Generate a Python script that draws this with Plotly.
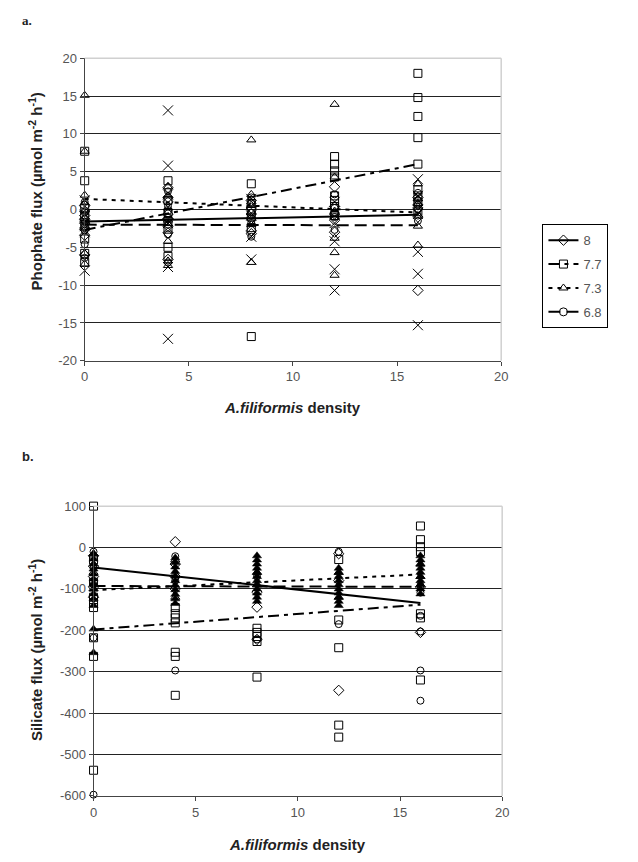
import plotly.graph_objects as go

# page body has an 8px margin; the figure is sized/positioned to fit the 638x862 window
OFF = 8
W, H = 638 - 2 * OFF, 862 - 2 * OFF


def fx(p):
    return (p - OFF) / W


def fy(p):
    return 1 - (p - OFF) / H


# ---------------- data : panel a (phosphate flux) ----------------
ph_labels = ["8", "7.7", "7.3", "6.8"]
symbols = ["diamond-open", "square-open", "triangle-up-open", "circle-open"]

a_x_8 = [0, 0, 0, 0, 0, 0, 0, 0, 4, 4, 4, 4, 4, 4, 4, 4, 8, 8, 8, 8, 8, 8, 12, 12, 12, 12, 12, 16, 16, 16, 16, 16]
a_y_8 = [0.5, -0.2, -0.8, -1.3, -1.8, -2.6, -3.4, -6.0,
         2.9, 1.6, 1.0, -0.6, -1.2, -2.2, -3.1, -6.6,
         1.2, 0.2, -0.6, -1.2, -2.8, -3.2,
         3.0, 0.4, -0.6, -1.4, -3.0,
         1.6, 0.6, 0.2, -1.0, -10.7]

a_x_77 = [0, 0, 0, 0, 0, 0, 0, 0, 4, 4, 4, 4, 4, 4, 4, 8, 8, 8, 8, 8, 8,
          12, 12, 12, 12, 12, 12, 12, 12, 16, 16, 16, 16, 16, 16, 16, 16, 16]
a_y_77 = [7.7, 3.8, 0.2, -1.0, -2.2, -3.9, -5.8, -7.0,
          3.8, 1.2, -0.4, -1.6, -2.6, -5.0, -6.2,
          3.4, 0.8, -0.2, -1.0, -2.4, -16.8,
          7.0, 6.0, 5.1, 4.3, 1.8, 1.2, 0.4, -0.8,
          18.0, 14.8, 12.3, 9.5, 6.0, 2.6, 1.8, 1.0, -0.3]

a_x_73 = [0, 0, 0, 0, 0, 0, 0, 0, 4, 4, 4, 4, 4, 4, 4, 8, 8, 8, 8, 8, 8,
          12, 12, 12, 12, 12, 12, 16, 16, 16, 16, 16]
a_y_73 = [15.1, 7.7, 1.9, 0.9, -0.2, -1.2, -5.8, -7.2,
          3.0, 1.8, 0.2, -1.4, -4.2, -6.8, -7.4,
          9.2, 2.0, 0.6, -1.0, -2.0, -7.0,
          13.9, 4.3, -0.2, -3.8, -5.7, -8.7,
          3.4, 1.4, 0.8, -2.2, -4.7]

a_x_68 = [0, 0, 0, 0, 0, 0, 0, 4, 4, 4, 4, 4, 4, 4, 8, 8, 8, 8, 8, 12, 12, 12, 12, 12, 16, 16, 16, 16, 16, 16]
a_y_68 = [1.0, -0.4, -1.6, -2.2, -2.8, -4.6, -6.4,
          2.4, 0.4, -0.2, -1.0, -2.0, -3.3, -7.0,
          1.6, 0.9, -0.4, -1.8, -3.6,
          2.0, 0.2, -0.4, -1.0, -2.7,
          2.2, 1.2, 0.6, 0.0, -0.8, -1.5]

a_x_cross = [0, 0, 0, 0, 0, 4, 4, 4, 4, 4, 4, 8, 8, 8, 8, 12, 12, 12, 12, 12, 16, 16, 16, 16, 16, 16]
a_y_cross = [1.2, -0.6, -2.2, -3.0, -8.1, 13.1, 5.8, 2.0, -1.8, -7.6, -17.1,
             1.4, -0.8, -3.6, -6.6, 1.0, -1.8, -4.2, -7.9, -10.7,
             4.0, 1.8, -0.6, -5.6, -8.5, -15.3]

trend_x = [0, 16]
a_trend_8 = [-1.6, -0.7]
a_trend_77 = [-2.7, 6.0]
a_trend_73 = [1.4, -0.4]
a_trend_68 = [-2.0, -2.1]

a_ticks = [-20, -15, -10, -5, 0, 5, 10, 15, 20]
a_ticktext = ["-20", "-15", "-10", "-5", "0", "5", "10", "15", "20"]

# ---------------- data : panel b (silicate flux) ----------------
b_x_8 = [0, 0, 0, 0, 0, 4, 4, 4, 4, 8, 8, 8, 12, 12, 12, 16, 16]
b_y_8 = [-20, -45, -70, -95, -120, 14, -40, -70, -100, -108, -144, -222, -15, -80, -345, -95, -205]

b_x_77 = [0, 0, 0, 0, 0, 0, 0, 0, 0, 4, 4, 4, 4, 4, 4, 4, 8, 8, 8, 8, 8,
          12, 12, 12, 12, 12, 16, 16, 16, 16, 16, 16, 16]
b_y_77 = [100, -30, -84, -120, -133, -145, -218, -263, -538,
          -145, -160, -170, -182, -253, -263, -357,
          -195, -205, -215, -227, -313,
          -29, -175, -242, -429, -458,
          52, 19, 2, -10, -160, -170, -320]

b_x_73 = [0, 0, 0, 4, 4, 8, 8, 12, 12, 16, 16]
b_y_73 = [-15, -60, -100, -120, -30, -90, -60, -60, -120, -40, -70]

b_x_68 = [0, 0, 0, 0, 0, 4, 4, 4, 8, 8, 12, 12, 16, 16, 16, 16, 16, 16]
b_y_68 = [-10, -50, -90, -218, -597, -21, -297, -80, -70, -222, -10, -185,
          -92, -109, -165, -203, -297, -370]

b_x_fill = [0, 0, 0, 0, 0, 0, 0, 0, 0, 0, 0, 0, 0,
            4, 4, 4, 4, 4, 4, 4, 4, 4, 4, 4,
            8, 8, 8, 8, 8, 8, 8, 8, 8, 8, 8, 8,
            12, 12, 12, 12, 12, 12, 12, 12, 12, 12,
            16, 16, 16, 16, 16, 16, 16, 16, 16, 16]
b_y_fill = [-15, -28, -40, -52, -64, -76, -88, -100, -112, -124, -140, -197, -254,
            -25, -36, -47, -58, -69, -80, -91, -102, -113, -124, -135,
            -20, -30, -40, -50, -60, -70, -80, -90, -100, -110, -120, -130,
            -50, -60, -70, -80, -90, -100, -110, -120, -130, -140,
            -20, -30, -40, -50, -60, -70, -80, -90, -100, -112]

b_trend_8 = [-48, -134]
b_trend_77 = [-198, -138]
b_trend_73 = [-103, -65]
b_trend_68 = [-93, -95]

b_ticks = [-600, -500, -400, -300, -200, -100, 0, 100]
b_ticktext = ["-600", "-500", "-400", "-300", "-200", "-100", "0", "100"]

x_ticks = [0, 5, 10, 15, 20]

dashes = ["solid", "11px,5px,4px,5px", "4px,5px", "12px,6px"]

fig = go.Figure()


def add_points(xs, ys, sym, xa, ya, size=8, filled=False):
    fig.add_trace(go.Scatter(
        x=xs, y=ys, mode="markers", xaxis=xa, yaxis=ya, showlegend=False,
        cliponaxis=False,
        marker=dict(symbol=sym, size=size, color="black",
                    line=dict(color="black", width=1 if not filled else 0.5))))


# panel a points
add_points(a_x_cross, a_y_cross, "x-thin-open", "x", "y", size=10)
for xs, ys, sym in zip([a_x_8, a_x_77, a_x_73, a_x_68], [a_y_8, a_y_77, a_y_73, a_y_68], symbols):
    add_points(xs, ys, sym, "x", "y", size=8 if "circle" not in sym else 7)

# panel b points
add_points(b_x_fill, b_y_fill, "triangle-up", "x2", "y2", size=8, filled=True)
for xs, ys, sym in zip([b_x_8, b_x_77, b_x_73, b_x_68], [b_y_8, b_y_77, b_y_73, b_y_68], symbols):
    add_points(xs, ys, sym, "x2", "y2", size=8 if "circle" not in sym else 7)

# trend lines
for tr, d in zip([a_trend_8, a_trend_77, a_trend_73, a_trend_68], dashes):
    fig.add_trace(go.Scatter(x=trend_x, y=tr, mode="lines", xaxis="x", yaxis="y", showlegend=False,
                             line=dict(color="black", width=2, dash=d)))
for tr, d in zip([b_trend_8, b_trend_77, b_trend_73, b_trend_68], dashes):
    fig.add_trace(go.Scatter(x=trend_x, y=tr, mode="lines", xaxis="x2", yaxis="y2", showlegend=False,
                             line=dict(color="black", width=2, dash=d)))

# legend entries
for lab, sym, d in zip(ph_labels, symbols, dashes):
    fig.add_trace(go.Scatter(x=[None], y=[None], mode="lines+markers", name=lab, legendgroup=lab,
                             xaxis="x", yaxis="y",
                             line=dict(color="black", width=2, dash=d),
                             marker=dict(symbol=sym, size=8, color="black",
                                         line=dict(color="black", width=1))))

tickfont = dict(family="Liberation Sans, Arial, sans-serif", size=13, color="#555555")
common_x = dict(range=[0, 20], tickvals=x_ticks, ticks="outside", ticklen=4, tickcolor="#444",
                showline=True, linecolor="#444", linewidth=1, showgrid=False, zeroline=False,
                tickfont=tickfont)
common_y = dict(ticks="outside", ticklen=4, tickcolor="#444", showline=True, linecolor="#444",
                linewidth=1, showgrid=True, gridcolor="#222", gridwidth=1.2, zeroline=False,
                tickfont=tickfont)

fig.update_layout(
    width=W, height=H, autosize=False,
    margin=dict(l=0, r=0, t=0, b=0),
    paper_bgcolor="white", plot_bgcolor="white",
    xaxis=dict(domain=[fx(82), fx(506)], anchor="y", **common_x),
    yaxis=dict(domain=[fy(360), fy(52)], anchor="x", range=[-20, 20],
               tickvals=a_ticks, ticktext=a_ticktext, **common_y),
    xaxis2=dict(domain=[fx(91), fx(507)], anchor="y2", **common_x),
    yaxis2=dict(domain=[fy(803), fy(508)], anchor="x2", range=[-600, 100],
                tickvals=b_ticks, ticktext=b_ticktext, **common_y),
    legend=dict(x=fx(548), y=fy(221), xanchor="left", yanchor="top",
                bordercolor="black", borderwidth=1, bgcolor="white",
                font=dict(family="Liberation Sans, Arial, sans-serif", size=13, color="#555555"),
                tracegroupgap=4, traceorder="grouped", itemwidth=30),
    showlegend=True,
)

# light grey plot-area border (top and right)
for xr, yr in [("x domain", "y domain"), ("x2 domain", "y2 domain")]:
    fig.add_shape(type="line", xref=xr, yref=yr, x0=0, x1=1, y0=1, y1=1,
                  line=dict(color="#d0d0d0", width=1.5), layer="above")
    fig.add_shape(type="line", xref=xr, yref=yr, x0=1, x1=1, y0=0, y1=1,
                  line=dict(color="#d0d0d0", width=1.5), layer="above")

title_font = dict(family="Liberation Sans, Arial, sans-serif", size=15, color="#222222")
ann = [
    dict(text="<b>a.</b>", x=fx(16), y=fy(14), xanchor="left", yanchor="middle",
         font=dict(family="Liberation Serif, Times New Roman, serif", size=13, color="#222")),
    dict(text="<b>b.</b>", x=fx(16), y=fy(457), xanchor="left", yanchor="middle",
         font=dict(family="Liberation Sans, Arial, sans-serif", size=13, color="#222")),
    dict(text="<b>Phophate flux (µmol m<sup>-2</sup> h<sup>-1</sup>)</b>", textangle=-90,
         x=fx(32), y=fy(188), xanchor="center", yanchor="middle", font=title_font),
    dict(text="<b>Silicate flux (µmol m<sup>-2</sup> h<sup>-1</sup>)</b>", textangle=-90,
         x=fx(32), y=fy(655), xanchor="center", yanchor="middle", font=title_font),
    dict(text="<b><i>A.filiformis</i> density</b>", x=fx(294), y=fy(408),
         xanchor="center", yanchor="middle", font=title_font),
    dict(text="<b><i>A.filiformis</i> density</b>", x=fx(299), y=fy(852),
         xanchor="center", yanchor="middle", font=title_font),
]
for a in ann:
    a.update(xref="paper", yref="paper", showarrow=False)
fig.update_layout(annotations=ann)

fig.write_html("out.html")
